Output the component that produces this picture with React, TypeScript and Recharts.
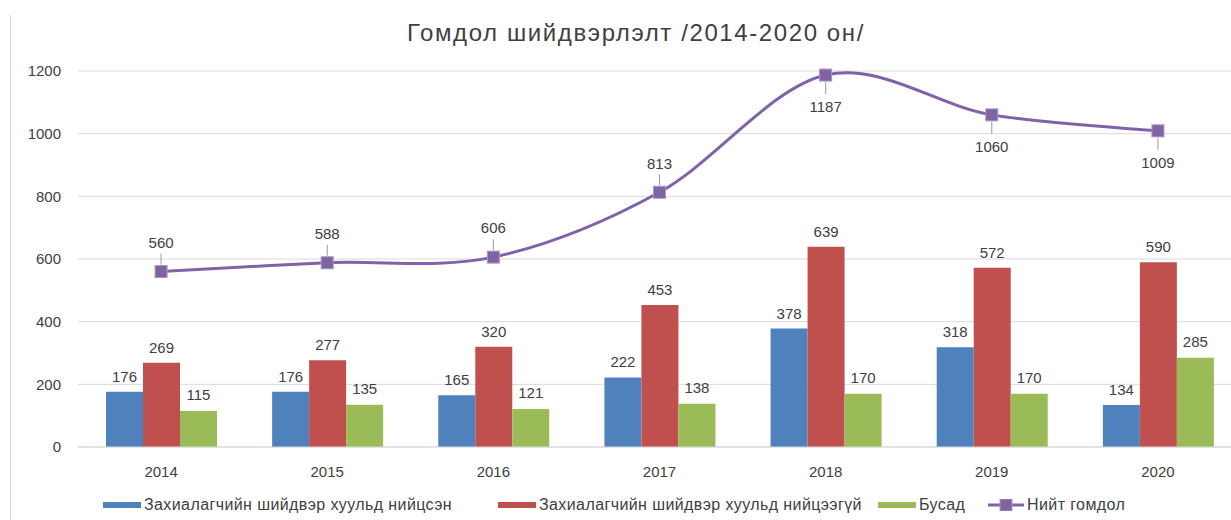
import React from 'react';
import { ComposedChart, Bar, Line, XAxis, YAxis, CartesianGrid, LabelList, Legend } from 'recharts';

const years = ['2014', '2015', '2016', '2017', '2018', '2019', '2020'];
const compliant = [176, 176, 165, 222, 378, 318, 134];
const nonCompliant = [269, 277, 320, 453, 639, 572, 590];
const other = [115, 135, 121, 138, 170, 170, 285];
const total = [560, 588, 606, 813, 1187, 1060, 1009];
const yTicks = [0, 200, 400, 600, 800, 1000, 1200];

const seriesNames = [
  'Захиалагчийн шийдвэр хуульд нийцсэн',
  'Захиалагчийн шийдвэр хуульд нийцээгүй',
  'Бусад',
  'Нийт гомдол',
];
const title = 'Гомдол шийдвэрлэлт /2014-2020 он/';

const data = years.map((y, i) => ({
  year: y,
  a: compliant[i],
  b: nonCompliant[i],
  c: other[i],
  t: total[i],
}));

const COLORS = ['#4F81BD', '#C0504D', '#9BBB59', '#7F62A8'];
const FONT = '"Liberation Sans", Arial, sans-serif';
const TEXT = '#404040';
// which side of the point each total label sits (style only)
const lineLabelBelow = [false, false, false, false, true, true, true];
// legend item left edges (layout only)
const legendX = [103, 498, 878, 988];

function catmullRom(context: any) {
  let pts: number[][] = [];
  return {
    areaStart() {},
    areaEnd() {},
    lineStart() {
      pts = [];
    },
    point(x: number, y: number) {
      pts.push([+x, +y]);
    },
    lineEnd() {
      if (!pts.length) return;
      context.moveTo(pts[0][0], pts[0][1]);
      const t = 1 / 6;
      for (let i = 0; i < pts.length - 1; i++) {
        const p0 = pts[i - 1] || pts[i];
        const p1 = pts[i];
        const p2 = pts[i + 1];
        const p3 = pts[i + 2] || p2;
        context.bezierCurveTo(
          p1[0] + (p2[0] - p0[0]) * t,
          p1[1] + (p2[1] - p0[1]) * t,
          p2[0] - (p3[0] - p1[0]) * t,
          p2[1] - (p3[1] - p1[1]) * t,
          p2[0],
          p2[1]
        );
      }
    },
  };
}

const SquareDot = (props: any) => {
  const { cx, cy, index } = props;
  if (cx == null || cy == null) return null;
  return (
    <rect key={`d${index}`} x={cx - 6} y={cy - 6} width={12} height={12} fill="#8064A2" stroke="#A995C6" strokeWidth={1} />
  );
};

const TotalLabel = (props: any) => {
  const { x, y, value, index } = props;
  const below = lineLabelBelow[index];
  const ty = below ? y + 32 : y - 29;
  return (
    <g>
      <line x1={x} x2={x} y1={below ? y + 7 : y - 7} y2={below ? y + 19 : y - 18} stroke="#9a9a9a" strokeWidth={1} />
      <text x={x} y={ty} dy="0.35em" textAnchor="middle" fontSize={15} fill={TEXT} fontFamily={FONT}>
        {value}
      </text>
    </g>
  );
};

const LegendContent = () => {
  const item = (i: number) => (
    <div
      key={i}
      style={{ position: 'absolute', left: legendX[i], top: 5, height: 40, display: 'flex', alignItems: 'center' }}
    >
      {i < 3 ? (
        <div style={{ width: 38, height: 6, background: COLORS[i], marginRight: 3 }} />
      ) : (
        <svg width={36} height={12} style={{ marginRight: 3 }}>
          <line x1={0} x2={36} y1={6} y2={6} stroke={COLORS[3]} strokeWidth={3} />
          <rect x={12} y={0} width={12} height={12} fill="#8064A2" stroke="#A995C6" />
        </svg>
      )}
      <span>{seriesNames[i]}</span>
    </div>
  );
  return (
    <div
      style={{
        position: 'relative',
        height: 40,
        fontFamily: FONT,
        fontSize: 16,
        letterSpacing: 0.4,
        color: TEXT,
        whiteSpace: 'nowrap',
      }}
    >
      {item(0)}
      {item(1)}
      {item(2)}
      {item(3)}
    </div>
  );
};

export default function App() {
  return (
    <div style={{ position: 'absolute', left: 0, top: 0, width: 1231, height: 520, overflow: 'hidden', background: '#fff' }}>
      <div style={{ position: 'absolute', left: 10, top: 15, width: 0, height: 510, borderLeft: '1px solid #d9d9d9' }} />
      <div
        style={{
          position: 'absolute',
          left: 0,
          top: 19,
          width: 1272,
          textAlign: 'center',
          fontFamily: FONT,
          fontSize: 24,
          letterSpacing: 1.6,
          color: TEXT,
          zIndex: 2,
        }}
      >
        {title}
      </div>
      <ComposedChart width={1241} height={520} data={data} margin={{ top: 71, right: 0, bottom: 0, left: 0 }} barGap={0}>
        <CartesianGrid vertical={false} stroke="#d9d9d9" />
        <XAxis
          dataKey="year"
          height={33}
          tickLine={false}
          axisLine={{ stroke: '#d9d9d9' }}
          tick={{ fontSize: 15, fill: TEXT, fontFamily: FONT }}
          tickMargin={13}
        />
        <YAxis
          width={78}
          domain={[0, 1200]}
          ticks={yTicks}
          tickLine={false}
          axisLine={false}
          tick={{ fontSize: 15, fill: TEXT, fontFamily: FONT }}
          tickMargin={11}
        />
        <Legend verticalAlign="bottom" height={40} wrapperStyle={{ left: 0, width: 1231 }} content={<LegendContent />} />
        <Bar dataKey="a" name={seriesNames[0]} fill={COLORS[0]} barSize={37} isAnimationActive={false}>
          <LabelList dataKey="a" position="top" offset={10} fontSize={15} fill={TEXT} fontFamily={FONT} />
        </Bar>
        <Bar dataKey="b" name={seriesNames[1]} fill={COLORS[1]} barSize={37} isAnimationActive={false}>
          <LabelList dataKey="b" position="top" offset={10} fontSize={15} fill={TEXT} fontFamily={FONT} />
        </Bar>
        <Bar dataKey="c" name={seriesNames[2]} fill={COLORS[2]} barSize={37} isAnimationActive={false}>
          <LabelList dataKey="c" position="top" offset={11} fontSize={15} fill={TEXT} fontFamily={FONT} />
        </Bar>
        <Line
          dataKey="t"
          name={seriesNames[3]}
          type={catmullRom as any}
          stroke={COLORS[3]}
          strokeWidth={3}
          dot={SquareDot}
          activeDot={false}
          isAnimationActive={false}
        >
          <LabelList dataKey="t" content={<TotalLabel />} />
        </Line>
      </ComposedChart>
    </div>
  );
}
